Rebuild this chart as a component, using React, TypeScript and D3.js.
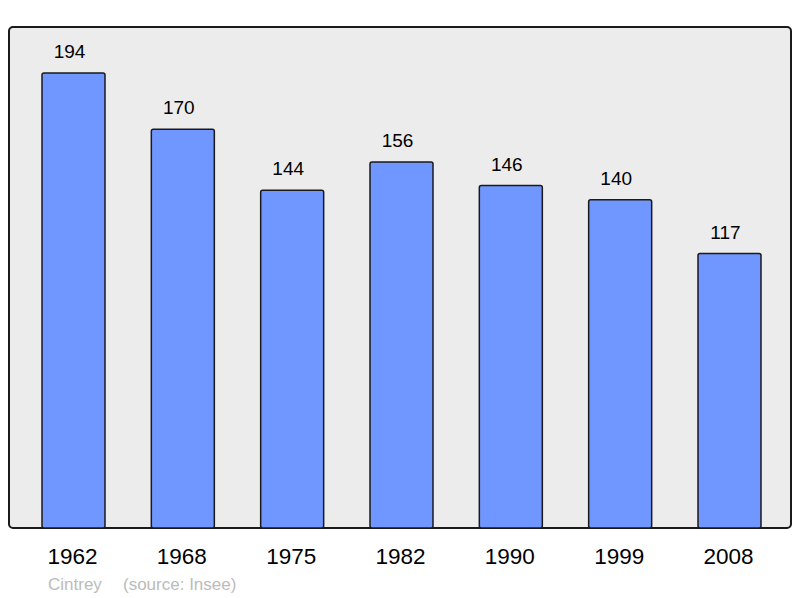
import React from "react";
import * as d3 from "d3";

const years = ["1962", "1968", "1975", "1982", "1990", "1999", "2008"];
const population = [194, 170, 144, 156, 146, 140, 117];
const commune = "Cintrey";
const source = "(source: Insee)";

const W = 800;
const H = 598;

export default function App() {
  const x = d3.scalePoint<string>().domain(years).range([73.5, 729.5]);
  const y = d3.scaleLinear().domain([0, 194]).range([528, 73]);
  const barW = 63;

  return (
    <svg
      width={W}
      height={H}
      style={{ position: "absolute", left: 0, top: 0, fontFamily: "'Liberation Sans', Arial, sans-serif" }}
    >
      <rect x={0} y={0} width={W} height={H} fill="#fff" />
      <rect x={9} y={27} width={782} height={501} rx={4} fill="#ececec" stroke="#1a1a1a" strokeWidth={2} />
      {years.map((yr, i) => {
        const cx = x(yr)!;
        const v = population[i];
        return (
          <g key={yr}>
            <rect
              x={cx - barW / 2}
              y={y(v)}
              width={barW}
              height={y(0) - y(v)}
              rx={2}
              fill="#7096ff"
              stroke="#1a1a1a"
              strokeWidth={1.5}
            />
            <text x={cx - 4} y={y(v) - 15} textAnchor="middle" fontSize={19} fill="#000">
              {v}
            </text>
            <text x={cx - 1} y={564} textAnchor="middle" fontSize={22.5} fill="#000">
              {yr}
            </text>
          </g>
        );
      })}
      <text x={48} y={590} fontSize={17} fill="#bbb">
        {commune}
      </text>
      <text x={123} y={590} fontSize={17} fill="#bbb">
        {source}
      </text>
    </svg>
  );
}
